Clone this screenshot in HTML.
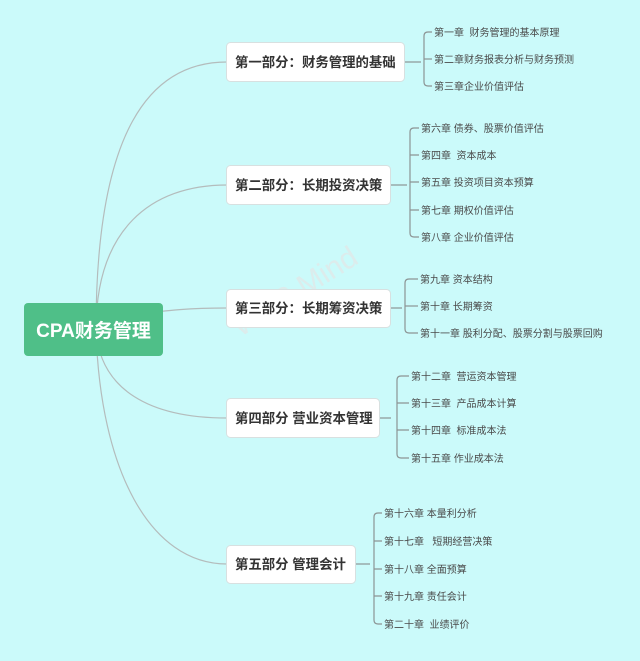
<!DOCTYPE html>
<html><head><meta charset="utf-8"><style>
html,body{margin:0;padding:0;background:#cbfafa;}
svg{display:block;font-family:"Liberation Sans","Noto Sans CJK SC",sans-serif;}
text{white-space:pre;}
</style></head><body>
<svg width="640" height="661" viewBox="0 0 640 661" xmlns="http://www.w3.org/2000/svg">
<rect width="640" height="661" fill="#cbfafa"/>
<g fill="none" stroke="#b4bcbc" stroke-width="1.2">
<path d="M96,330 C96,130 150,62 227,62"/>
<path d="M96,330 C96,230 150,185 227,185"/>
<path d="M130,315 C170,310 190,308 227,308"/>
<path d="M96,330 C100,390 150,418 227,418"/>
<path d="M96,330 C100,470 150,564 227,564"/>
</g>
<g fill="none" stroke="#8c9494" stroke-width="1.2">
<path d="M405,62 H421"/><path d="M432,32 H428 Q424,32 424,36 V82 Q424,86 428,86 H432"/><path d="M424,59 H432"/>
<path d="M391,185 H407"/><path d="M419,128 H414 Q410,128 410,132 V233 Q410,237 414,237 H419"/><path d="M410,155 H419 M410,182 H419 M410,210 H419"/>
<path d="M391,308 H402"/><path d="M418,279 H409 Q405,279 405,283 V329 Q405,333 409,333 H418"/><path d="M405,306 H418"/>
<path d="M380,418 H391"/><path d="M409,376 H401 Q397,376 397,380 V454 Q397,458 401,458 H409"/><path d="M397,403 H409 M397,430 H409"/>
<path d="M356,564 H370"/><path d="M382,513 H378 Q374,513 374,517 V620 Q374,624 378,624 H382"/><path d="M374,541 H382 M374,569 H382 M374,596 H382"/>
</g>
<text x="300" y="300" font-size="30" fill="#dcecec" transform="rotate(-32 300 300)" text-anchor="middle">WPS Mind</text>
<rect x="24" y="303" width="139" height="53" rx="4" fill="#4fbf88"/>
<text x="93.5" y="337" font-size="19" font-weight="bold" fill="#fff" text-anchor="middle">CPA财务管理</text>
<g fill="#fff" stroke="#d8e0e0" stroke-width="1">
<rect x="226.5" y="42.5" width="178" height="39" rx="4"/>
<rect x="226.5" y="165.5" width="164" height="39" rx="4"/>
<rect x="226.5" y="289.5" width="164" height="38" rx="4"/>
<rect x="226.5" y="398.5" width="153" height="39" rx="4"/>
<rect x="226.5" y="545.5" width="129" height="38" rx="4"/>
</g>
<g font-size="13.4" font-weight="bold" fill="#333">
<text x="235" y="67">第一部分：财务管理的基础</text>
<text x="235" y="190">第二部分：长期投资决策</text>
<text x="235" y="313">第三部分：长期筹资决策</text>
<text x="235" y="423">第四部分 营业资本管理</text>
<text x="235" y="569">第五部分 管理会计</text>
</g>
<g font-size="10" fill="#4a4a4a">
<text x="434" y="36">第一章  财务管理的基本原理</text>
<text x="434" y="63">第二章财务报表分析与财务预测</text>
<text x="434" y="90">第三章企业价值评估</text>
<text x="421" y="132">第六章 债券、股票价值评估</text>
<text x="421" y="159">第四章  资本成本</text>
<text x="421" y="186">第五章 投资项目资本预算</text>
<text x="421" y="214">第七章 期权价值评估</text>
<text x="421" y="241">第八章 企业价值评估</text>
<text x="420" y="283">第九章 资本结构</text>
<text x="420" y="310">第十章 长期筹资</text>
<text x="420" y="337">第十一章 股利分配、股票分割与股票回购</text>
<text x="411" y="380">第十二章  营运资本管理</text>
<text x="411" y="407">第十三章  产品成本计算</text>
<text x="411" y="434">第十四章  标准成本法</text>
<text x="411" y="462">第十五章 作业成本法</text>
<text x="384" y="517">第十六章 本量利分析</text>
<text x="384" y="545">第十七章   短期经营决策</text>
<text x="384" y="573">第十八章 全面预算</text>
<text x="384" y="600">第十九章 责任会计</text>
<text x="384" y="628">第二十章  业绩评价</text>
</g>
</svg>
</body></html>
